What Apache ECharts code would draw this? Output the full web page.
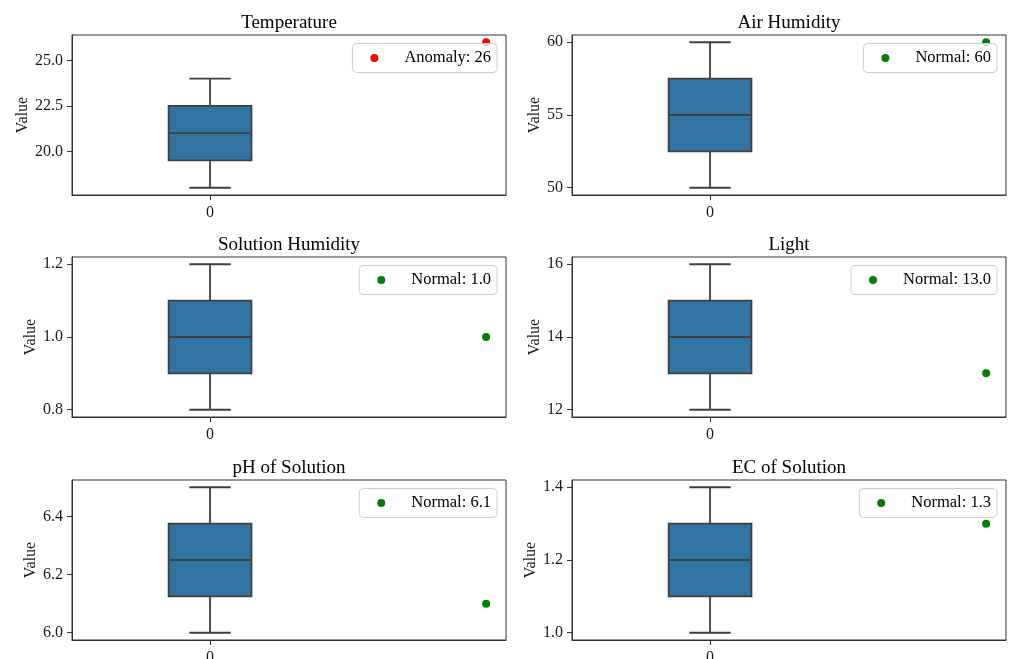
<!DOCTYPE html>
<html>
<head>
<meta charset="utf-8">
<title>Sensor readings</title>
<script src="https://cdn.jsdelivr.net/npm/echarts@6/dist/echarts.min.js"></script>
<style>
  html, body { margin: 0; padding: 0; background: #ffffff; }
  #chart { width: 1009px; height: 659px; }
</style>
</head>
<body>
<div id="chart"></div>
<script>
// Panel titles, in reading order (row by row)
const titles = ['Temperature', 'Air Humidity', 'Solution Humidity', 'Light', 'pH of Solution', 'EC of Solution'];

// Box statistics per panel
const whiskerLow  = [18,   50,   0.8, 12, 6.0,   1.0];
const quartile1   = [19.5, 52.5, 0.9, 13, 6.125, 1.1];
const medians     = [21,   55,   1.0, 14, 6.25,  1.2];
const quartile3   = [22.5, 57.5, 1.1, 15, 6.375, 1.3];
const whiskerHigh = [24,   60,   1.2, 16, 6.5,   1.4];

// Current reading and its status per panel
const readings = [26, 60, 1.0, 13.0, 6.1, 1.3];
const readingText = ['26', '60', '1.0', '13.0', '6.1', '1.3'];
const statuses = ['Anomaly', 'Normal', 'Normal', 'Normal', 'Normal', 'Normal'];

// Y tick values and their labels per panel
const yTicks = [[20, 22.5, 25], [50, 55, 60], [0.8, 1.0, 1.2], [12, 14, 16], [6.0, 6.2, 6.4], [1.0, 1.2, 1.4]];
const yTickLabels = [['20.0', '22.5', '25.0'], ['50', '55', '60'], ['0.8', '1.0', '1.2'], ['12', '14', '16'], ['6.0', '6.2', '6.4'], ['1.0', '1.2', '1.4']];

// X positions: the box sits at 0, the reading at 1
const xTicks = [0];
const xTickLabels = ['0'];
const BOX_X = 0;
const READING_X = 1;

// ---- layout & style ----
const FONT = '"Liberation Serif", "DejaVu Serif", serif';
const COLS = [72, 572];
const ROWS = [35, 257, 480];
const GRID_W = 434;
const GRID_H = 160;
const BOX_HALF = 0.15;
const CAP_HALF = 0.075;
const LINE = '#3f3f3f';
const LINE_W = 1.8;
const BOX_FILL = '#3274a1';
const SPINE = '#333333';
const STATUS_COLOR = { Anomaly: '#ff0000', Normal: '#008000' };
const NAME_GAPS = [40, 28, 33, 28, 33, 32];

function renderBox(params, api) {
  const x = api.value(0);
  const lo = api.value(1), q1 = api.value(2), med = api.value(3), q3 = api.value(4), hi = api.value(5);
  const tl = api.coord([x - BOX_HALF, q3]);
  const br = api.coord([x + BOX_HALF, q1]);
  const mid = api.coord([x, med]);
  const top = api.coord([x, hi]);
  const bot = api.coord([x, lo]);
  const capL = api.coord([x - CAP_HALF, hi])[0];
  const capR = api.coord([x + CAP_HALF, hi])[0];
  const line = { stroke: LINE, lineWidth: LINE_W };
  return {
    type: 'group',
    children: [
      { type: 'line', shape: { x1: top[0], y1: top[1], x2: top[0], y2: tl[1] }, style: line },
      { type: 'line', shape: { x1: bot[0], y1: br[1], x2: bot[0], y2: bot[1] }, style: line },
      { type: 'line', shape: { x1: capL, y1: top[1], x2: capR, y2: top[1] }, style: line },
      { type: 'line', shape: { x1: capL, y1: bot[1], x2: capR, y2: bot[1] }, style: line },
      { type: 'rect', shape: { x: tl[0], y: tl[1], width: br[0] - tl[0], height: br[1] - tl[1] },
        style: { fill: BOX_FILL, stroke: LINE, lineWidth: LINE_W } },
      { type: 'line', shape: { x1: tl[0], y1: mid[1], x2: br[0], y2: mid[1] }, style: line }
    ]
  };
}

const grid = [], xAxis = [], yAxis = [], series = [], legend = [], title = [];

titles.forEach((name, i) => {
  const left = COLS[i % 2];
  const top = ROWS[Math.floor(i / 2)];
  const lo = Math.min(whiskerLow[i], readings[i]);
  const hi = Math.max(whiskerHigh[i], readings[i]);
  const pad = (hi - lo) * 0.05;
  const legendName = statuses[i] + ': ' + readingText[i];

  grid.push({ left: left, top: top, width: GRID_W, height: GRID_H,
    outerBoundsMode: 'none', containLabel: false,
    show: true, borderColor: SPINE, borderWidth: 1, backgroundColor: 'transparent' });

  title.push({ text: name, left: left + GRID_W / 2, top: top - 21, textAlign: 'center', padding: 0,
    textStyle: { fontFamily: FONT, fontSize: 19, fontWeight: 'normal', color: '#000000' } });

  xAxis.push({
    type: 'value', gridIndex: i, min: -0.5, max: 1.072,
    axisLine: { show: true, onZero: false, lineStyle: { color: SPINE, width: 1 } },
    axisTick: { show: true, length: 5, customValues: xTicks, lineStyle: { color: SPINE } },
    axisLabel: { show: true, margin: 10, customValues: xTicks,
      formatter: v => xTickLabels[xTicks.indexOf(v)],
      fontFamily: FONT, fontSize: 16, color: '#1a1a1a' },
    splitLine: { show: false }
  });

  yAxis.push({
    type: 'value', gridIndex: i, min: lo - pad, max: hi + pad,
    name: 'Value', nameLocation: 'middle', nameGap: NAME_GAPS[i],
    nameTextStyle: { fontFamily: FONT, fontSize: 16, color: '#1a1a1a' },
    axisLine: { show: true, onZero: false, lineStyle: { color: SPINE, width: 1 } },
    axisTick: { show: true, length: 5, customValues: yTicks[i], lineStyle: { color: SPINE } },
    axisLabel: { show: true, margin: 9, customValues: yTicks[i],
      formatter: v => yTickLabels[i][yTicks[i].indexOf(v)],
      fontFamily: FONT, fontSize: 16, color: '#1a1a1a' },
    splitLine: { show: false }
  });

  series.push({
    type: 'custom', xAxisIndex: i, yAxisIndex: i,
    encode: { x: 0, y: [1, 2, 3, 4, 5] },
    data: [[BOX_X, whiskerLow[i], quartile1[i], medians[i], quartile3[i], whiskerHigh[i]]],
    renderItem: renderBox, silent: true, z: 2
  });

  series.push({
    type: 'scatter', name: legendName, xAxisIndex: i, yAxisIndex: i,
    data: [[READING_X, readings[i]]], symbol: 'circle', symbolSize: 8,
    itemStyle: { color: STATUS_COLOR[statuses[i]], opacity: 1 }, z: 3, clip: false
  });

  legend.push({
    data: [legendName], right: 1009 - (left + GRID_W) + 9, top: top + 8.5,
    orient: 'horizontal', icon: 'circle', itemWidth: 40, itemHeight: 8,
    padding: [6, 6, 6, 18], backgroundColor: 'rgba(255,255,255,0.8)',
    borderColor: '#cccccc', borderWidth: 1, borderRadius: 4,
    selectedMode: false,
    textStyle: { fontFamily: FONT, fontSize: 16.5, color: '#000000', padding: [0, 0, 0, 5] }
  });
});

const chart = echarts.init(document.getElementById('chart'), null, { renderer: 'canvas' });
chart.setOption({
  animation: false,
  backgroundColor: '#ffffff',
  title, grid, xAxis, yAxis, series, legend
});
</script>
</body>
</html>
